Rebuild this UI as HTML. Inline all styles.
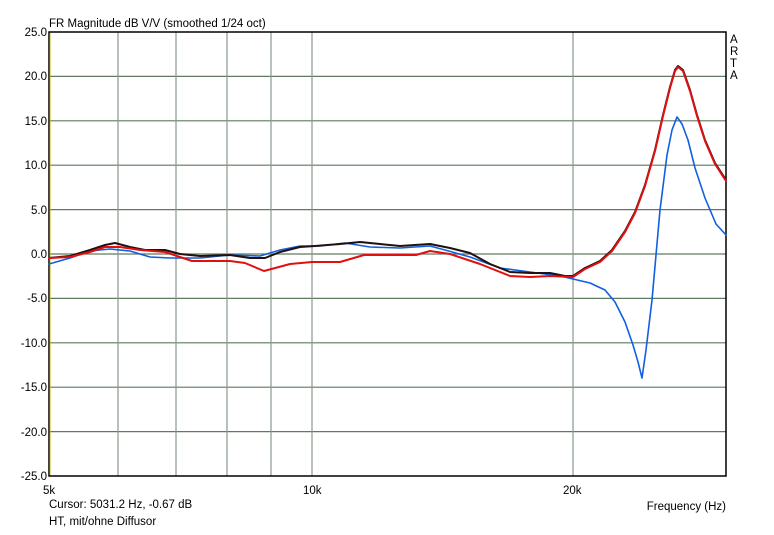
<!DOCTYPE html>
<html><head><style>
body{margin:0;background:#fff;}
svg text{font-family:"Liberation Sans",Arial,sans-serif;font-size:11.5px;fill:#000;}
</style></head><body>
<svg width="774" height="530" xmlns="http://www.w3.org/2000/svg">
<rect width="774" height="530" fill="#fff"/>
<g stroke="#5f7a5f" stroke-width="1.2">
<line x1="49" y1="76.4" x2="726" y2="76.4"/><line x1="49" y1="120.8" x2="726" y2="120.8"/>
<line x1="49" y1="165.2" x2="726" y2="165.2"/><line x1="49" y1="209.6" x2="726" y2="209.6"/>
<line x1="49" y1="254" x2="726" y2="254"/><line x1="49" y1="298.4" x2="726" y2="298.4"/>
<line x1="49" y1="342.8" x2="726" y2="342.8"/><line x1="49" y1="387.2" x2="726" y2="387.2"/>
<line x1="49" y1="431.6" x2="726" y2="431.6"/>
</g>
<g stroke="#8a9a8a" stroke-width="1.2">
<line x1="118" y1="32" x2="118" y2="476"/><line x1="176" y1="32" x2="176" y2="476"/>
<line x1="227" y1="32" x2="227" y2="476"/><line x1="271" y1="32" x2="271" y2="476"/>
<line x1="312" y1="32" x2="312" y2="476"/><line x1="573" y1="32" x2="573" y2="476"/>
</g>
<rect x="49" y="32" width="677" height="444" fill="none" stroke="#000" stroke-width="1.5"/>
<line x1="50" y1="33" x2="50" y2="475" stroke="#c8b400" stroke-width="1"/>
<g fill="none" stroke-linejoin="round" stroke-linecap="round">
<polyline stroke="#1060e0" stroke-width="1.6" points="49,264 70,258 90,251 110,249 130,251 150,257 170,258 200,258 230,255 260,256 280,250 300,246 320,246 345,243 370,247 400,248 430,246 445,250 470,257 500,268 530,272 560,276 573,279 590,283 605,290 615,302 625,322 633,345 638,362 642,378 646,350 652,300 660,210 667,155 672,130 677,117 682,124 688,140 695,168 705,198 716,224 726,235"/>
<polyline stroke="#201010" stroke-width="2" points="49,258 70,256 90,250 105,245 115,243 130,247 145,250 165,250 180,254 200,256 230,255 250,258 265,258 280,252 300,247 315,246 340,244 360,242 380,244 400,246 415,245 430,244 450,248 470,253 490,264 510,272 530,273 550,273 565,276 573,276 585,268 600,261 612,250 625,231 635,212 645,185 655,150 663,115 670,87 675,70 678,66 683,70 690,90 697,115 705,140 715,163 726,180"/>
<polyline stroke="#e01010" stroke-width="2" points="49,258 70,257 90,252 105,247 120,247 140,250 165,252 180,257 192,261 230,261 245,263 264,271 290,264 312,262 340,262 364,255 400,255 416,255 430,251 450,254 480,264 510,276 530,277 550,276 573,277 585,269 600,262 612,251 625,232 635,213 645,186 655,151 663,116 670,88 675,71 678,67 683,71 690,91 697,116 705,141 715,164 726,181"/>
</g>
<text x="49" y="27">FR Magnitude dB V/V (smoothed 1/24 oct)</text>
<g text-anchor="end">
<text x="47" y="36">25.0</text><text x="47" y="80">20.0</text><text x="47" y="125">15.0</text>
<text x="47" y="169">10.0</text><text x="47" y="214">5.0</text><text x="47" y="258">0.0</text>
<text x="47" y="302">-5.0</text><text x="47" y="347">-10.0</text><text x="47" y="391">-15.0</text>
<text x="47" y="436">-20.0</text><text x="47" y="480">-25.0</text>
</g>
<text x="43" y="494">5k</text><text x="303" y="494">10k</text><text x="563" y="494">20k</text>
<text x="726" y="510" text-anchor="end">Frequency (Hz)</text>
<text x="49" y="508">Cursor: 5031.2 Hz, -0.67 dB</text>
<text x="49" y="525">HT, mit/ohne Diffusor</text>
<text x="730" y="43">A</text><text x="730" y="55">R</text><text x="730" y="67">T</text><text x="730" y="79">A</text>
</svg>
</body></html>
